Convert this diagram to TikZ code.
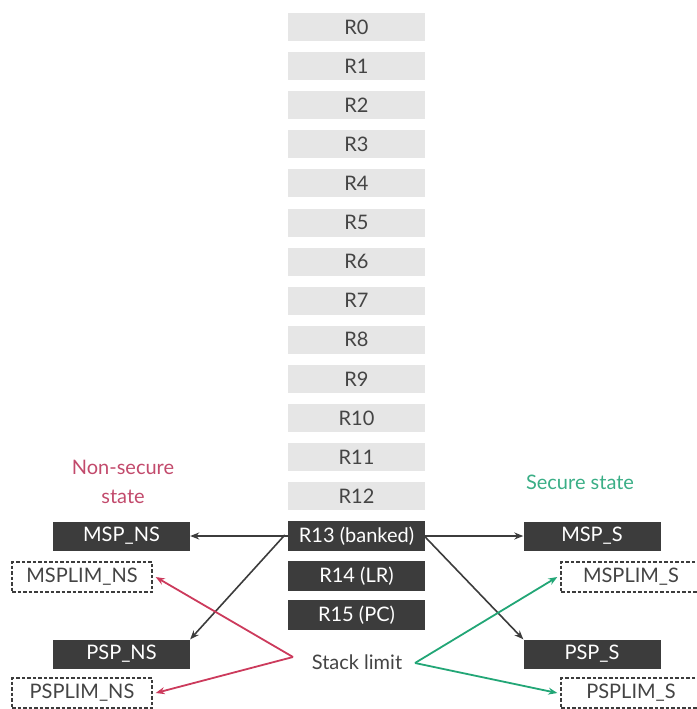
\documentclass[tikz,border=0pt]{standalone}
\usepackage{fontspec}
\setmainfont{Lato}
\usetikzlibrary{arrows.meta}
\definecolor{regfill}{HTML}{E6E6E6}
\definecolor{regtext}{HTML}{444444}
\definecolor{darkbox}{HTML}{3C3C3C}
\definecolor{nscol}{HTML}{CC3A5C}
\definecolor{scol}{HTML}{22A676}
\definecolor{nslab}{HTML}{C24A6C}
\definecolor{slab}{HTML}{3AAE86}
\begin{document}
\begin{tikzpicture}[x=1pt,y=-1pt,
  font=\fontsize{20}{29}\selectfont,
  lightreg/.style={fill=regfill,text=regtext,minimum width=137pt,minimum height=28pt,inner sep=0pt},
  darkreg/.style={fill=darkbox,text=white,minimum width=137pt,minimum height=30pt,inner sep=0pt},
  limbox/.style={draw=darkbox,dash pattern=on 3.5pt off 2pt,line width=1.4pt,fill=white,text=regtext,minimum width=140pt,minimum height=30pt,inner sep=0pt},
  blk/.style={draw=darkbox,line width=1.6pt,-{Stealth[length=9pt,width=7pt]}},
  redarr/.style={draw=nscol,line width=1.8pt,-{Stealth[length=9pt,width=7pt]}},
  grnarr/.style={draw=scol,line width=1.8pt,-{Stealth[length=9pt,width=7pt]}}]
\useasboundingbox (0,0) rectangle (696,709);

% general purpose registers
\foreach \i/\lab in {0/R0,1/R1,2/R2,3/R3,4/R4,5/R5,6/R6,7/R7,8/R8,9/R9,10/R10,11/R11,12/R12}
  \node[lightreg] (r\i) at (356.5,{27+39.1*\i}) {\lab};

% special registers
\node[darkreg] (r13) at (356.5,536) {R13 (banked)};
\node[darkreg] (r14) at (356.5,576) {R14 (LR)};
\node[darkreg] (r15) at (356.5,615) {R15 (PC)};

% non-secure side
\node[text=nslab,align=center] (nslabel) at (123,482) {Non-secure\\state};
\node[darkreg,minimum height=29pt] (mspns) at (121.5,536) {MSP\_NS};
\node[limbox] (msplimns) at (82,577) {MSPLIM\_NS};
\node[darkreg,minimum height=29pt] (pspns) at (121.5,654) {PSP\_NS};
\node[limbox] (psplimns) at (82,693) {PSPLIM\_NS};

% secure side
\node[text=slab] (slabel) at (580,482) {Secure state};
\node[darkreg,minimum height=29pt] (msps) at (592,536) {MSP\_S};
\node[limbox] (msplims) at (631,577) {MSPLIM\_S};
\node[darkreg,minimum height=29pt] (psps) at (592,654) {PSP\_S};
\node[limbox] (psplims) at (631,693) {PSPLIM\_S};

% stack limit label
\node[text=regtext] (sl) at (357,662) {Stack limit};
\coordinate (slw) at (293,657);
\coordinate (sle) at (415,663);

% banked stack pointers
\draw[blk] (r13.west) -- (mspns.east);
\draw[blk] (r13.east) -- (msps.west);
\draw[blk] ([xshift=-3pt,yshift=1pt]r13.west) -- (pspns.north east);
\draw[blk] ([yshift=-1pt]r13.east) -- (psps.north west);

% stack limit registers
\draw[redarr] (slw) -- ([xshift=3pt]msplimns.east);
\draw[redarr] (slw) -- ([xshift=3pt]psplimns.east);
\draw[grnarr] (sle) -- ([xshift=-3pt]msplims.west);
\draw[grnarr] (sle) -- ([xshift=-3pt]psplims.west);
\end{tikzpicture}
\end{document}
